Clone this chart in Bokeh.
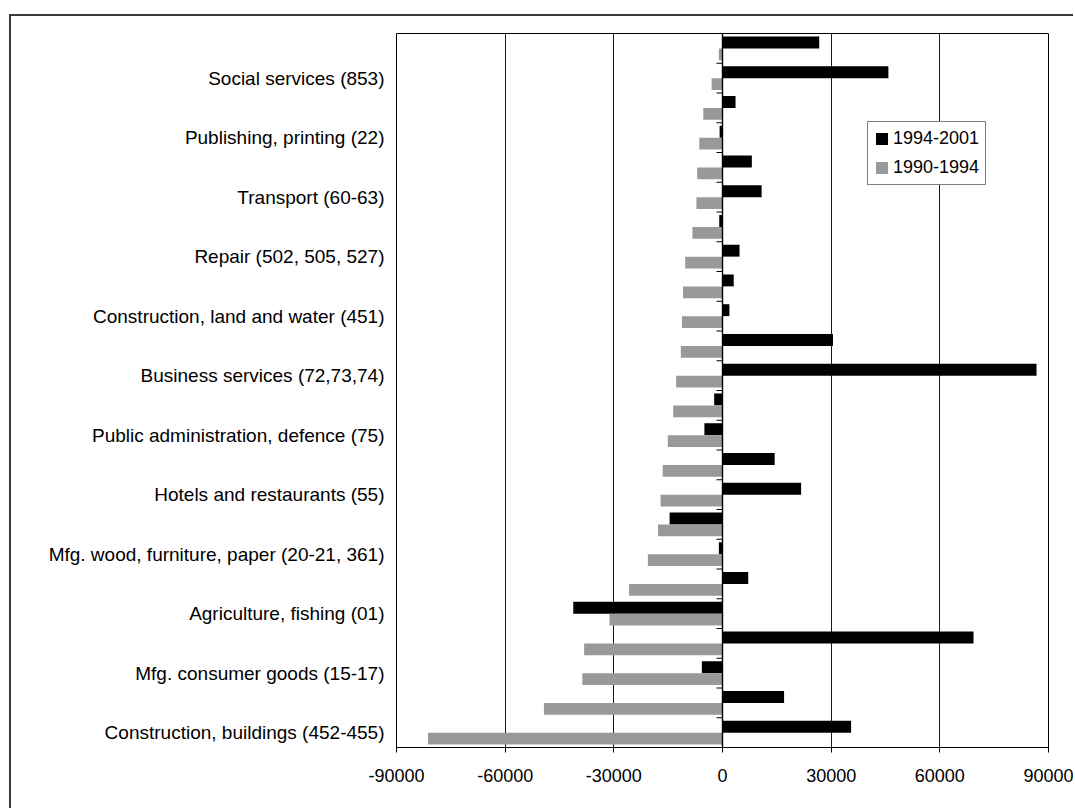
from bokeh.plotting import figure
from bokeh.models import (ColumnDataSource, Range1d, FixedTicker, NumeralTickFormatter,
                          Span, Legend, LegendItem)
from bokeh.embed import file_html
from bokeh.resources import INLINE

# Industries from top to bottom; only every other one carries a printed name
industries = [
    "", "Social services (853)",
    "", "Publishing, printing (22)",
    "", "Transport (60-63)",
    "", "Repair (502, 505, 527)",
    "", "Construction, land and water (451)",
    "", "Business services (72,73,74)",
    "", "Public administration, defence (75)",
    "", "Hotels and restaurants (55)",
    "", "Mfg. wood, furniture, paper (20-21, 361)",
    "", "Agriculture, fishing (01)",
    "", "Mfg. consumer goods (15-17)",
    "", "Construction, buildings (452-455)",
]

# Change in employment, same order as above
change_1994_2001 = [26700, 45800, 3600, -800, 8100, 10800, -900, 4700, 3100, 1900,
                    30500, 86700, -2300, -5000, 14400, 21700, -14600, -1000, 7100,
                    -41200, 69300, -5700, 17000, 35500]
change_1990_1994 = [-1000, -3000, -5300, -6400, -7000, -7200, -8300, -10300, -10900,
                    -11200, -11500, -12800, -13600, -15100, -16500, -17100, -17800,
                    -20600, -25800, -31200, -38200, -38700, -49300, -81300]

series_names = ["1994-2001", "1990-1994"]
series_colors = ["#000000", "#999999"]
x_ticks = [-90000, -60000, -30000, 0, 30000, 60000, 90000]

n = len(industries)
ypos = [n - 1 - k for k in range(n)]  # first entry drawn at the top

FONT = "Liberation Sans"

p = figure(width=1064, height=794, output_backend="svg", toolbar_location=None,
           x_range=Range1d(-90000, 90000), y_range=Range1d(-0.5, n - 0.5),
           min_border_left=385, min_border_right=27, min_border_top=17,
           min_border_bottom=63)
p.styles = {"margin-left": "9px", "margin-top": "14px",
            "border-left": "2px solid #3a3a3a", "border-top": "2px solid #3a3a3a"}

p.background_fill_color = "white"
p.border_fill_color = "white"
p.outline_line_color = "black"
p.outline_line_width = 1

# vertical gridlines
p.xgrid.ticker = FixedTicker(ticks=x_ticks)
p.xgrid.grid_line_color = "#1a1a1a"
p.xgrid.grid_line_width = 1
p.ygrid.grid_line_color = None

bar_h = 0.4
src_a = ColumnDataSource(dict(y=[v + bar_h / 2 for v in ypos], val=change_1994_2001))
src_b = ColumnDataSource(dict(y=[v - bar_h / 2 for v in ypos], val=change_1990_1994))

r_a = p.hbar(y="y", left=0, right="val", height=bar_h, source=src_a,
             fill_color=series_colors[0], line_color=None)
r_b = p.hbar(y="y", left=0, right="val", height=bar_h, source=src_b,
             fill_color=series_colors[1], line_color=None)

# zero axis with small ticks between categories
p.add_layout(Span(location=0, dimension="height", line_color="black", line_width=1.4))
boundaries = [v - 0.5 for v in range(n + 1)]
p.ray(x=[0] * len(boundaries), y=boundaries, length=6, length_units="screen",
      angle=3.14159265, line_color="black", line_width=1)

# x axis
xa = p.xaxis[0]
xa.ticker = FixedTicker(ticks=x_ticks)
xa.formatter = NumeralTickFormatter(format="0")
xa.axis_line_color = "black"
xa.major_tick_line_color = "black"
xa.major_tick_in = 0
xa.major_tick_out = 5
xa.minor_tick_line_color = None
xa.major_label_standoff = 16
xa.major_label_text_font = FONT
xa.major_label_text_font_size = "18px"
xa.major_label_text_color = "black"

# category axis: names only where printed
ya = p.yaxis[0]
labelled = [(y, name) for y, name in zip(ypos, industries) if name]
ya.ticker = FixedTicker(ticks=[y for y, _ in labelled])
ya.major_label_overrides = {y: name for y, name in labelled}
ya.axis_line_color = None
ya.major_tick_line_color = None
ya.minor_tick_line_color = None
ya.major_tick_in = 0
ya.major_tick_out = 0
ya.major_label_standoff = 12
ya.major_label_text_font = FONT
ya.major_label_text_font_size = "19px"
ya.major_label_text_color = "black"

legend = Legend(items=[LegendItem(label=series_names[0], renderers=[r_a]),
                       LegendItem(label=series_names[1], renderers=[r_b])],
                location=(471, 562))
legend.border_line_color = "black"
legend.border_line_width = 1
legend.background_fill_color = "white"
legend.background_fill_alpha = 1
legend.label_text_font = FONT
legend.label_text_font_size = "18px"
legend.label_text_color = "black"
legend.glyph_width = 15
legend.glyph_height = 15
legend.label_standoff = 4
legend.padding = 6
legend.spacing = 8
legend.margin = 0
p.add_layout(legend)

open("out.html", "w").write(file_html(p, INLINE))
